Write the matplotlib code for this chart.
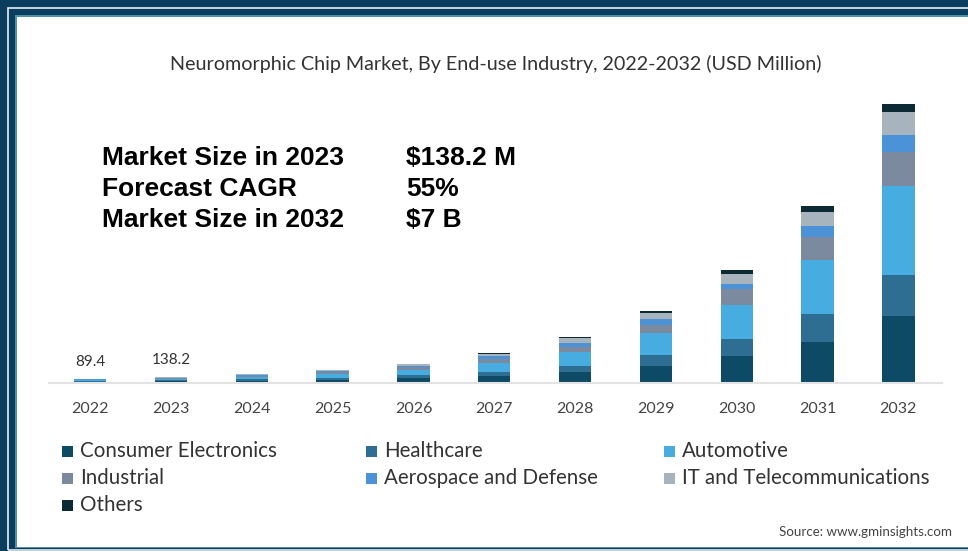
import matplotlib.pyplot as plt
from matplotlib.patches import Rectangle
import numpy as np

# ---- data (USD million) ----
years = ["2022", "2023", "2024", "2025", "2026", "2027", "2028", "2029", "2030", "2031", "2032"]
segments = ["Consumer Electronics", "Healthcare", "Automotive", "Industrial",
            "Aerospace and Defense", "IT and Telecommunications", "Others"]
consumer = [21, 33, 50, 75, 115, 175, 275, 420, 675, 1025, 1680]
healthcare = [13, 20, 30, 45, 65, 100, 150, 275, 420, 690, 1030]
automotive = [28, 43, 65, 95, 145, 225, 340, 540, 850, 1375, 2230]
industrial = [11, 17, 25, 40, 60, 100, 135, 210, 400, 560, 850]
aerospace = [7, 11, 17, 25, 40, 60, 100, 140, 140, 290, 430]
it_telecom = [7, 10, 16, 25, 35, 50, 110, 150, 250, 350, 580]
others = [2.4, 4.2, 7, 10, 15, 25, 25, 65, 85, 135, 200]
bar_labels = {0: "89.4", 1: "138.2"}
stats_left = ["Market Size in 2023", "Forecast CAGR", "Market Size in 2032"]
stats_right = ["$138.2 M", "55%", "$7 B"]

colors = ["#0c4a66", "#2d6e92", "#47ade0", "#7c8aa0", "#4b93d6", "#a8b4bd", "#0c2a33"]

W, H = 968, 551
fig = plt.figure(figsize=(W / 100, H / 100), dpi=100)
fig.patch.set_facecolor("#0b3d5e")

def px_rect(x0, y0, x1, y1, **kw):
    # rectangle given in pixel coords, y measured from top
    r = Rectangle((x0 / W, 1 - y1 / H), (x1 - x0) / W, (y1 - y0) / H,
                  transform=fig.transFigure, zorder=-5, **kw)
    fig.patches.append(r)

# frame
px_rect(8, 8, W + 5, H - 1, facecolor="none", edgecolor="#e8eef2", linewidth=1.2)
px_rect(15, 15, W + 5, H - 3, facecolor="#4f8fa8", edgecolor="none")
px_rect(17, 17, W + 5, H - 4, facecolor="white", edgecolor="none")

# axes placed by pixels
ax_l, ax_r, ax_t, ax_b = 49, 942, 90, 382.5
ax = fig.add_axes([ax_l / W, 1 - ax_b / H, (ax_r - ax_l) / W, (ax_b - ax_t) / H])
ax.set_facecolor("none")
ax.set_zorder(2)

series = [consumer, healthcare, automotive, industrial, aerospace, it_telecom, others]
x = np.arange(len(years))
bottom = np.zeros(len(years))
for vals, col, name in zip(series, colors, segments):
    ax.bar(x, vals, width=0.40, bottom=bottom, color=col, label=name, linewidth=0)
    bottom += np.array(vals)

for i, txt in bar_labels.items():
    ax.text(x[i], bottom[i] + 260, txt, ha="center", va="bottom",
            fontsize=11, color="#333333", family="Lato")

ax.set_xlim(-0.51, 10.54)
ax.set_ylim(0, 7352)
ax.set_yticks([])
ax.set_xticks(x)
ax.set_xticklabels(years, fontsize=11.5, color="#444444", family="Lato")
ax.tick_params(axis="x", length=0, pad=14)
for s in ["top", "right", "left"]:
    ax.spines[s].set_visible(False)
ax.spines["bottom"].set_color("#e2e2e2")
ax.spines["bottom"].set_linewidth(1.5)

# title
fig.text(496 / W, 1 - 64 / H, "Neuromorphic Chip Market, By End-use Industry, 2022-2032 (USD Million)",
         ha="center", va="center", fontsize=14.2, color="#333333", family="Lato")

# stats block
for k, (a, b) in enumerate(zip(stats_left, stats_right)):
    yy = 1 - (158 + 31 * k) / H
    fig.text(102 / W, yy, a, ha="left", va="center", fontsize=19,
             fontweight="bold", color="black", family="Liberation Sans")
    fig.text(406 / W, yy, b, ha="left", va="center", fontsize=19,
             fontweight="bold", color="black", family="Liberation Sans")

# legend
handles, labels = ax.get_legend_handles_labels()
leg_x = [62, 366, 664]
leg_y = [451, 478, 505]
for idx, lab in enumerate(labels):
    col_i, row_i = idx % 3, idx // 3
    fx = leg_x[col_i] / W
    fy = 1 - leg_y[row_i] / H
    fig.patches.append(Rectangle((fx, fy - 5.5 / H), 11 / W, 11 / H,
                                 transform=fig.transFigure, facecolor=colors[idx], edgecolor="none"))
    fig.text(fx + 18 / W, fy, lab, ha="left", va="center", fontsize=14.8,
             color="#333333", family="Lato")

fig.text(952 / W, 1 - 532 / H, "Source: www.gminsights.com", ha="right", va="center",
         fontsize=9.6, color="#444444", family="Lato")

fig.savefig("out.png", dpi=100, facecolor=fig.get_facecolor())
